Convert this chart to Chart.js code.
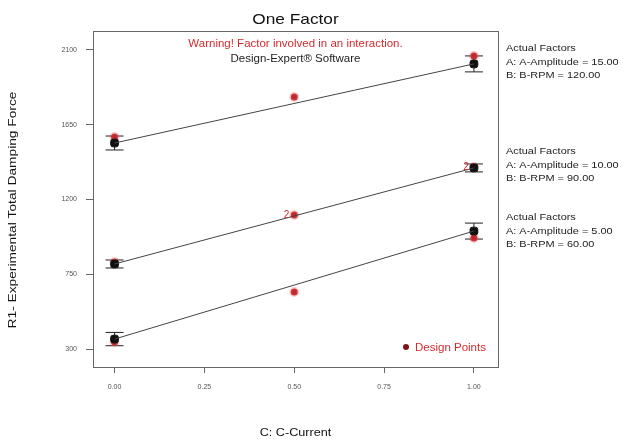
<!DOCTYPE html>
<html>
<head>
<meta charset="utf-8">
<script src="https://cdn.jsdelivr.net/npm/chart.js@4/dist/chart.umd.min.js"></script>
<style>
  html, body { margin: 0; padding: 0; background: #fff; }
  #wrap { width: 627px; height: 441px; position: relative; }
</style>
</head>
<body>
<div id="wrap"><canvas id="chart" width="627" height="441"></canvas></div>
<script>
// Current levels (coded) and tick labels
const currentLevels = [0, 0.5, 1];
const xTicks = [0, 0.25, 0.5, 0.75, 1];
const yTicks = [300, 750, 1200, 1650, 2100];

// Predicted force at C = 0 and C = 1 for each amplitude / RPM setting
const fitHigh = [1540, 2016];
const fitMid = [812, 1390];
const fitLow = [360, 1010];

// LSD half-widths at the two ends of each line
const barHigh = [42, 48];
const barMid = [24, 24];
const barLow = [40, 48];

// Measured design points
const designHigh = [1576, 1817, 2064];
const designMid = [824, 1107, 1396];
const designLow = [342, 643, 968];

// Replicate counts shown beside some design points
const replicateMid = ['', '2', '2'];

const factorNotes = [
    ['Actual Factors', 'A: A-Amplitude = 15.00', 'B: B-RPM = 120.00'],
    ['Actual Factors', 'A: A-Amplitude = 10.00', 'B: B-RPM = 90.00'],
    ['Actual Factors', 'A: A-Amplitude = 5.00', 'B: B-RPM = 60.00']
];

const red = '#d42a2e';
const pointRed = '#c0262c';
const darkRed = '#7a1618';
const fontFamily = 'Arial, "Liberation Sans", sans-serif';
const stretch = 1.15; // text is drawn a bit wide

function linePoints(fit) {
    return [{ x: 0, y: fit[0] }, { x: 1, y: fit[1] }];
}
function designPoints(vals) {
    return vals.map((v, i) => ({ x: currentLevels[i], y: v }));
}

// wide text helper: x is the anchor according to textAlign
function wideText(ctx, text, x, y) {
    ctx.save();
    ctx.translate(x, y);
    ctx.scale(stretch, 1);
    ctx.fillText(text, 0, 0);
    ctx.restore();
}

const fits = [fitHigh, fitMid, fitLow];
const bars = [barHigh, barMid, barLow];

// Frame, error bars, notes and titles
const decorPlugin = {
    id: 'decor',
    beforeDatasetsDraw(chart) {
        const ctx = chart.ctx;
        const a = chart.chartArea;
        const xs = chart.scales.x;
        const ys = chart.scales.y;
        ctx.save();
        ctx.strokeStyle = '#666';
        ctx.lineWidth = 1;
        ctx.strokeRect(a.left + 0.5, a.top + 0.5, a.right - a.left, a.bottom - a.top);

        // LSD bars at both ends of each fitted line
        ctx.strokeStyle = '#222';
        fits.forEach((fit, k) => {
            [0, 1].forEach(i => {
                const px = xs.getPixelForValue(i);
                const top = ys.getPixelForValue(fit[i] + bars[k][i]);
                const bot = ys.getPixelForValue(fit[i] - bars[k][i]);
                ctx.beginPath();
                ctx.moveTo(px, top); ctx.lineTo(px, bot);
                ctx.moveTo(px - 9, top); ctx.lineTo(px + 9, top);
                ctx.moveTo(px - 9, bot); ctx.lineTo(px + 9, bot);
                ctx.stroke();
            });
        });
        ctx.restore();
    },
    afterDatasetsDraw(chart) {
        const ctx = chart.ctx;
        const a = chart.chartArea;
        const xs = chart.scales.x;
        const ys = chart.scales.y;
        ctx.save();

        // replicate counts
        ctx.fillStyle = red;
        ctx.font = '10px ' + fontFamily;
        ctx.textAlign = 'right';
        ctx.textBaseline = 'middle';
        replicateMid.forEach((t, i) => {
            if (!t) return;
            ctx.fillText(t, xs.getPixelForValue(currentLevels[i]) - 5, ys.getPixelForValue(designMid[i]));
        });

        // title and notes inside plot
        const cx = (a.left + a.right) / 2;
        ctx.textAlign = 'center';
        ctx.textBaseline = 'alphabetic';
        ctx.fillStyle = '#111';
        ctx.font = '15px ' + fontFamily;
        wideText(ctx, 'One Factor', cx, 24);
        ctx.font = '10px ' + fontFamily;
        ctx.fillStyle = red;
        wideText(ctx, 'Warning! Factor involved in an interaction.', cx, 47);
        ctx.fillStyle = '#222';
        wideText(ctx, 'Design-Expert\u00ae Software', cx, 62);

        // legend
        ctx.fillStyle = darkRed;
        ctx.beginPath();
        ctx.arc(406, 347, 3, 0, Math.PI * 2);
        ctx.fill();
        ctx.fillStyle = red;
        ctx.textAlign = 'left';
        ctx.font = '10px ' + fontFamily;
        wideText(ctx, 'Design Points', 415, 351);

        // factor settings on the right
        ctx.fillStyle = '#222';
        ctx.font = '9.5px ' + fontFamily;
        const noteTops = [51, 154, 220];
        factorNotes.forEach((lines, g) => {
            lines.forEach((t, j) => wideText(ctx, t, 506, noteTops[g] + j * 13.5));
        });

        // axis titles
        ctx.fillStyle = '#111';
        ctx.font = '11px ' + fontFamily;
        ctx.textAlign = 'center';
        wideText(ctx, 'C: C-Current', cx, 436);
        ctx.translate(16, 210);
        ctx.rotate(-Math.PI / 2);
        ctx.scale(1.25, 1);
        ctx.fillText('R1- Experimental Total Damping Force', 0, 0);
        ctx.restore();
    }
};

const fitStyle = {
    type: 'line',
    borderColor: '#444',
    borderWidth: 1,
    pointRadius: 0,
    fill: false,
    tension: 0
};
const predStyle = {
    type: 'scatter',
    backgroundColor: '#111',
    borderColor: '#111',
    pointStyle: 'rectRounded',
    pointRadius: 4.5
};
const designStyle = {
    type: 'scatter',
    backgroundColor: pointRed,
    borderColor: 'rgba(230, 90, 90, 0.3)',
    borderWidth: 3,
    pointRadius: 3.5
};

new Chart(document.getElementById('chart'), {
    data: {
        datasets: [
            Object.assign({ data: linePoints(fitHigh) }, fitStyle),
            Object.assign({ data: linePoints(fitMid) }, fitStyle),
            Object.assign({ data: linePoints(fitLow) }, fitStyle),
            Object.assign({ data: linePoints(fitHigh) }, predStyle),
            Object.assign({ data: linePoints(fitMid) }, predStyle),
            Object.assign({ data: linePoints(fitLow) }, predStyle),
            Object.assign({ data: designPoints(designHigh) }, designStyle),
            Object.assign({ data: designPoints(designMid) }, designStyle),
            Object.assign({ data: designPoints(designLow) }, designStyle)
        ]
    },
    options: {
        responsive: false,
        animation: false,
        layout: { padding: { left: 0, top: 31, right: 129, bottom: 0 } },
        plugins: {
            legend: { display: false },
            tooltip: { enabled: false }
        },
        scales: {
            x: {
                type: 'linear',
                min: -0.06,
                max: 1.067,
                afterBuildTicks: axis => { axis.ticks = xTicks.map(v => ({ value: v })); },
                afterFit: axis => { axis.height = 74; },
                grid: { drawOnChartArea: false, drawTicks: true, tickLength: 6, color: '#666' },
                border: { display: false },
                ticks: {
                    color: '#555',
                    font: { size: 7, family: fontFamily },
                    padding: 10,
                    maxRotation: 0,
                    callback: v => Number(v).toFixed(2)
                }
            },
            y: {
                type: 'linear',
                min: 192,
                max: 2214,
                afterBuildTicks: axis => { axis.ticks = yTicks.map(v => ({ value: v })); },
                afterFit: axis => { axis.width = 93; },
                grid: { drawOnChartArea: false, drawTicks: true, tickLength: 7, color: '#666' },
                border: { display: false },
                ticks: {
                    color: '#555',
                    font: { size: 7, family: fontFamily },
                    padding: 9,
                    callback: v => String(v)
                }
            }
        }
    },
    plugins: [decorPlugin]
});
</script>
</body>
</html>
